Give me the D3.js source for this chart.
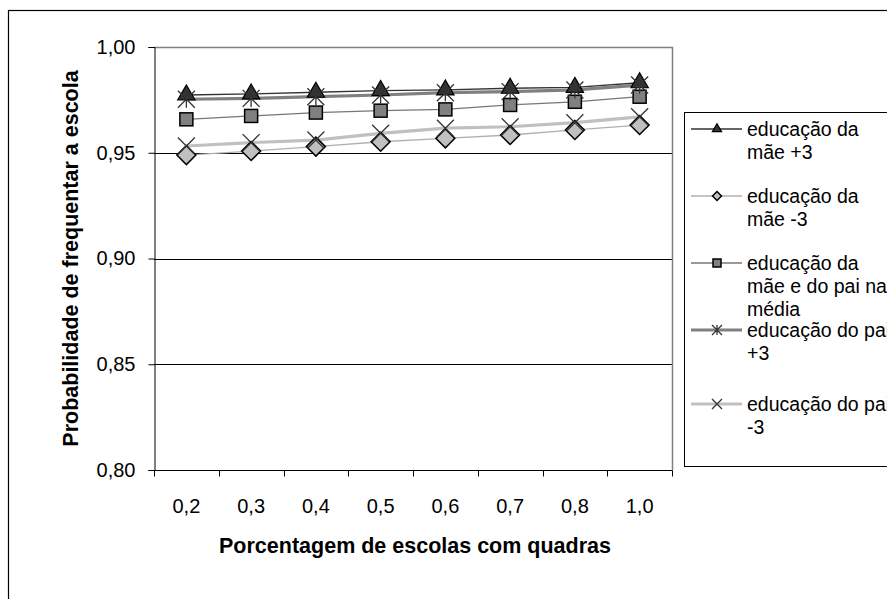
<!DOCTYPE html>
<html><head><meta charset="utf-8">
<script src="https://cdn.jsdelivr.net/npm/d3@7/dist/d3.min.js"></script>
<style>body{margin:0;background:#fff}svg{display:block;font-family:"Liberation Sans",Arial,sans-serif}</style>
</head><body><svg id="c" width="887" height="599"></svg>
<script>
const categories = ["0,2","0,3","0,4","0,5","0,6","0,7","0,8","1,0"];
const maeMais3  = [0.9773,0.9778,0.9786,0.9794,0.9797,0.9805,0.9809,0.9831];
const maeMenos3 = [0.9489,0.9508,0.9529,0.9552,0.9568,0.9584,0.9608,0.9631];
const media     = [0.9658,0.9674,0.9690,0.9699,0.9705,0.9726,0.9741,0.9765];
const paiMais3  = [0.9753,0.9757,0.9765,0.9773,0.9784,0.9789,0.9797,0.9820];
const paiMenos3 = [0.9532,0.9548,0.9560,0.9592,0.9616,0.9623,0.9642,0.9670];
const yTicks = [0.80,0.85,0.90,0.95,1.00];
const seriesNames = [["educação da","mãe +3"],["educação da","mãe -3"],["educação da","mãe e do pai  na","média"],["educação do pai","+3"],["educação do pai","-3"]];

const series = [
  {name:seriesNames[0], values:maeMais3,  line:"#333", lw:1.3, marker:"triangle", fill:"#333"},
  {name:seriesNames[1], values:maeMenos3, line:"#b0b0b0", lw:1.3, marker:"diamond", fill:"#c0c0c0"},
  {name:seriesNames[2], values:media,     line:"#777", lw:1.3, marker:"square", fill:"#808080"},
  {name:seriesNames[3], values:paiMais3,  line:"#808080", lw:3.2, marker:"asterisk", fill:"none"},
  {name:seriesNames[4], values:paiMenos3, line:"#c0c0c0", lw:3.2, marker:"cross", fill:"none"}
];

const svg = d3.select("#c");
const L=154, R=672, T=47, B=470;
const x = d3.scaleBand().domain(categories).range([L,R]);
const y = d3.scaleLinear().domain([0.80,1.00]).range([B,T]);

// outer frame
svg.append("rect").attr("x",8.5).attr("y",10.5).attr("width",900).attr("height",620)
  .attr("fill","none").attr("stroke","#000").attr("stroke-width",1.2);

// gridlines
svg.append("g").selectAll("line").data(yTicks.filter(d=>d>0.8&&d<1)).join("line")
  .attr("x1",L).attr("x2",R).attr("y1",d=>Math.round(y(d))+0.5).attr("y2",d=>Math.round(y(d))+0.5)
  .attr("stroke","#000").attr("stroke-width",1);
// plot border top/right
svg.append("path").attr("d",`M${L},${T+0.5}H${R+0.5}V${B}`).attr("fill","none").attr("stroke","#808080").attr("stroke-width",1.5);

// y axis
const yAxis = d3.axisLeft(y).tickValues(yTicks).tickSize(6).tickPadding(13)
  .tickFormat(d=>d3.format(".2f")(d).replace(".",","));
const gy = svg.append("g").attr("transform",`translate(${L+0.5},0)`).call(yAxis);
gy.attr("font-size",null).attr("font-family",null);
gy.select(".domain").attr("stroke","#000");
gy.selectAll("text").attr("font-size",20).attr("fill","#000");

// x axis
const gx = svg.append("g").attr("transform",`translate(0,${B+0.5})`);
gx.append("line").attr("x1",L).attr("x2",R+0.5).attr("stroke","#000");
const bounds = categories.map(c=>x(c)).concat([R]);
gx.selectAll("line.t").data(bounds).join("line").attr("class","t")
  .attr("x1",d=>Math.round(d)+0.5).attr("x2",d=>Math.round(d)+0.5).attr("y1",0).attr("y2",6).attr("stroke","#000");
gx.selectAll("text").data(categories).join("text")
  .attr("x",d=>x(d)+x.bandwidth()/2).attr("y",42).attr("text-anchor","middle")
  .attr("font-size",20).attr("fill","#000").text(d=>d);

// axis titles
svg.append("text").attr("x",(L+R)/2+2).attr("y",553).attr("text-anchor","middle")
  .attr("font-size",21.5).attr("font-weight","bold").text("Porcentagem de escolas com quadras");
svg.append("text").attr("transform",`translate(78,${(T+B)/2}) rotate(-90)`).attr("text-anchor","middle")
  .attr("font-size",21.5).attr("font-weight","bold").text("Probabilidade de frequentar a escola");

function drawMarker(g, type, fill, s){
  if(type==="triangle"){
    g.append("path").attr("d",d3.symbol(d3.symbolTriangle, s*s*0.45)()).attr("fill",fill).attr("stroke","#000").attr("stroke-width",1.2);
  } else if(type==="diamond"){
    const h=s/2;
    g.append("path").attr("d",`M0,${-h}L${h},0L0,${h}L${-h},0Z`).attr("fill",fill).attr("stroke","#000").attr("stroke-width",1.5);
  } else if(type==="square"){
    const h=s/2;
    g.append("rect").attr("x",-h).attr("y",-h).attr("width",s).attr("height",s).attr("fill",fill).attr("stroke","#000").attr("stroke-width",1.5);
  } else if(type==="asterisk"){
    const h=s/2;
    g.append("path").attr("d",`M${-h},${-h}L${h},${h}M${-h},${h}L${h},${-h}M0,${-h}V${h}`).attr("stroke","#333").attr("stroke-width",1.3).attr("fill","none");
  } else if(type==="cross"){
    const h=s/2;
    g.append("path").attr("d",`M${-h},${-h}L${h},${h}M${-h},${h}L${h},${-h}`).attr("stroke","#333").attr("stroke-width",1.3).attr("fill","none");
  }
}
const mSize = {triangle:17, diamond:19, square:13, asterisk:17, cross:17};
const lMSize = {triangle:9, diamond:9, square:8, asterisk:10, cross:10};

const line = d3.line().x((d,i)=>x(categories[i])+x.bandwidth()/2).y(d=>y(d));
const plot = svg.append("g");
series.forEach(s=>{
  plot.append("path").datum(s.values).attr("d",line).attr("fill","none").attr("stroke",s.line).attr("stroke-width",s.lw);
});
series.forEach(s=>{
  s.values.forEach((v,i)=>{
    const g = plot.append("g").attr("transform",`translate(${x(categories[i])+x.bandwidth()/2},${y(v)})`);
    drawMarker(g, s.marker, s.fill, mSize[s.marker]);
  });
});

// legend
svg.append("rect").attr("x",684.5).attr("y",112.5).attr("width",260).attr("height",354)
  .attr("fill","none").attr("stroke","#000").attr("stroke-width",1);
const legRows = [129,196,263,330,404];
series.forEach((s,i)=>{
  const yy = legRows[i];
  const g = svg.append("g");
  g.append("line").attr("x1",691).attr("x2",742).attr("y1",yy).attr("y2",yy).attr("stroke",s.line).attr("stroke-width",s.lw);
  const mg = g.append("g").attr("transform",`translate(717,${yy})`);
  drawMarker(mg, s.marker, s.fill, lMSize[s.marker]);
  s.name.forEach((t,j)=>{
    g.append("text").attr("x",747).attr("y",yy+7+j*23).attr("font-size",19.5).attr("fill","#000").text(t);
  });
});
</script></body></html>
